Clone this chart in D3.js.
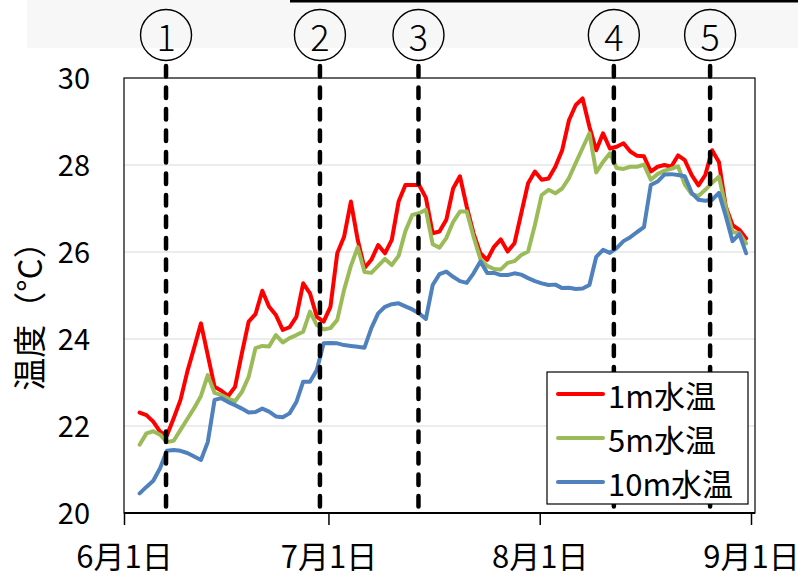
<!DOCTYPE html>
<html><head><meta charset="utf-8">
<script src="https://cdn.jsdelivr.net/npm/d3@7"></script>
<style>html,body{margin:0;padding:0;background:#fff;} svg{display:block;}</style>
</head><body>
<svg id="chart" width="803" height="577"></svg>
<script>
// ---- data ----
const startDate = "2020-06-03";           // first daily observation
const temp1m = [22.31,22.25,22.10,21.87,21.78,22.18,22.60,23.25,23.80,24.36,
  23.63,22.90,22.81,22.69,22.90,23.67,24.40,24.57,25.11,24.74,
  24.55,24.21,24.27,24.51,25.28,25.05,24.51,24.40,24.74,25.97,
  26.35,27.16,26.28,25.63,25.82,26.16,25.97,26.28,27.16,27.54,
  27.54,27.54,27.25,26.43,26.47,26.74,27.46,27.74,27.04,26.43,
  25.97,25.82,26.12,26.29,26.01,26.20,26.89,27.58,27.85,27.66,
  27.69,27.96,28.34,29.03,29.38,29.53,28.88,28.34,28.73,28.38,
  28.42,28.50,28.31,28.21,28.20,27.85,27.96,28.00,27.96,28.22,
  28.11,27.77,27.53,27.77,28.34,28.07,27.05,26.62,26.51,26.31];
const temp5m = [21.57,21.83,21.88,21.80,21.63,21.66,21.91,22.16,22.41,22.69,
  23.17,22.76,22.71,22.63,22.57,22.78,23.13,23.79,23.84,23.83,
  24.09,23.92,24.02,24.09,24.17,24.63,24.32,24.22,24.25,24.44,
  25.13,25.68,26.11,25.54,25.52,25.68,25.84,25.70,25.91,26.48,
  26.85,26.89,26.97,26.18,26.10,26.32,26.69,26.93,26.93,26.35,
  25.84,25.68,25.61,25.60,25.75,25.79,25.93,26.01,26.62,27.31,
  27.43,27.35,27.46,27.70,28.05,28.39,28.73,27.83,28.07,28.27,
  27.93,27.91,27.96,27.96,28.01,27.66,27.79,27.87,27.91,27.97,
  27.55,27.33,27.29,27.43,27.59,27.73,27.03,26.46,26.43,26.20];
const temp10m = [20.45,20.60,20.74,21.03,21.43,21.45,21.43,21.38,21.30,21.22,
  21.63,22.60,22.64,22.55,22.48,22.40,22.31,22.32,22.40,22.33,
  22.22,22.20,22.29,22.55,23.02,23.02,23.29,23.90,23.91,23.90,
  23.86,23.84,23.82,23.80,24.25,24.59,24.74,24.80,24.82,24.75,
  24.68,24.59,24.46,25.24,25.49,25.55,25.43,25.33,25.29,25.51,
  25.78,25.52,25.52,25.47,25.47,25.51,25.48,25.40,25.33,25.28,
  25.24,25.25,25.17,25.18,25.15,25.16,25.24,25.89,26.05,25.98,
  26.09,26.25,26.34,26.46,26.57,27.54,27.62,27.78,27.79,27.77,
  27.74,27.36,27.20,27.18,27.20,27.36,26.83,26.25,26.41,25.97];
const seriesNames = ["1m水温","5m水温","10m水温"];
const seriesColors = ["#FF0000","#9BBB59","#4F81BD"];
const yTicks = [20,22,24,26,28,30];
const yGrid = [22,24,26,28];
const xTickDates = ["2020-06-01","2020-07-01","2020-08-01","2020-09-01"];
const xTickLabels = ["6月1日","7月1日","8月1日","9月1日"];
const eventDates = ["2020-06-07T04:00","2020-06-29T18:00","2020-07-14T05:00","2020-08-11T21:00","2020-08-26T00:00"];
const eventLabels = ["1","2","3","4","5"];
const yTitle = "温度（°C）";

// ---- layout ----
const L = 124, R = 755, T = 78, B = 513;
const FONT = "'Noto Sans CJK JP','Noto Sans',sans-serif";
const parseDay = d3.timeParse("%Y-%m-%d");
const parseDT = d3.timeParse("%Y-%m-%dT%H:%M");
const svg = d3.select("#chart");

const x = d3.scaleTime().domain([parseDay("2020-06-01"), parseDay("2020-09-01")]).range([L, 751]);
const y = d3.scaleLinear().domain([20, 30]).range([B, T]);

const start = parseDay(startDate);
const ptDate = i => d3.timeHour.offset(d3.timeDay.offset(start, i), 7);
const series = [temp1m, temp5m, temp10m].map((vals, s) => ({
  name: seriesNames[s], color: seriesColors[s],
  pts: vals.map((v, i) => ({date: ptDate(i), v}))
}));

// top decoration
svg.append("rect").attr("x", 27).attr("y", 0).attr("width", 771).attr("height", 48).attr("fill", "#f7f7f7");
svg.append("line").attr("x1", 290).attr("x2", 798).attr("y1", 1).attr("y2", 1).attr("stroke", "#000").attr("stroke-width", 3);

// gridlines
svg.append("g").selectAll("line").data(yGrid).join("line")
  .attr("x1", L).attr("x2", R).attr("y1", d => y(d)).attr("y2", d => y(d))
  .attr("stroke", "#d9d9d9").attr("stroke-width", 1.2);

// frame
svg.append("rect").attr("x", L).attr("y", T).attr("width", R - L).attr("height", B - T)
  .attr("fill", "none").attr("stroke", "#000").attr("stroke-width", 1.2);

// y axis labels
const yAxis = svg.append("g").attr("transform", `translate(${L},0)`)
  .call(d3.axisLeft(y).tickValues(yTicks).tickSize(0).tickPadding(34).tickFormat(d3.format("d")));
yAxis.select(".domain").remove();
yAxis.selectAll("text").attr("font-family", FONT).attr("font-size", 29).attr("fill", "#000").attr("dy", "0.35em");

// x axis
const xDates = xTickDates.map(parseDay);
const xAxis = svg.append("g").attr("transform", `translate(0,${B})`)
  .call(d3.axisBottom(x).tickValues(xDates).tickSizeInner(12).tickSizeOuter(0)
    .tickFormat((d, i) => xTickLabels[i]));
xAxis.select(".domain").attr("stroke", "#000").attr("stroke-width", 2).attr("d", `M${L},0H${R}`);
xAxis.selectAll(".tick line").attr("stroke", "#000").attr("stroke-width", 1.5);
xAxis.selectAll("text").attr("font-family", FONT).attr("font-size", 31).attr("fill", "#000")
  .attr("y", 44).attr("dy", "0.35em");

// y title
svg.append("text").attr("transform", "translate(28,308) rotate(-90)")
  .attr("text-anchor", "middle").attr("dominant-baseline", "central")
  .attr("font-family", FONT).attr("font-size", 33).attr("fill", "#000").text(yTitle);

// series
const line = d3.line().x(d => x(d.date)).y(d => y(d.v));
svg.append("g").selectAll("path").data(series).join("path")
  .attr("d", d => line(d.pts)).attr("fill", "none")
  .attr("stroke", d => d.color).attr("stroke-width", 4)
  .attr("stroke-linejoin", "round").attr("stroke-linecap", "round");

// event markers
const ev = eventDates.map(parseDT);
svg.append("g").selectAll("line").data(ev).join("line")
  .attr("x1", d => x(d)).attr("x2", d => x(d)).attr("y1", 66).attr("y2", B)
  .attr("stroke", "#000").attr("stroke-width", 4.5)
  .attr("stroke-dasharray", "10.5,11").attr("stroke-linecap", "round");
const eg = svg.append("g").selectAll("g").data(ev).join("g")
  .attr("transform", d => `translate(${x(d)},35)`);
eg.append("circle").attr("r", 25.5).attr("fill", "none").attr("stroke", "#000").attr("stroke-width", 1.4);
eg.append("text").attr("text-anchor", "middle").attr("dominant-baseline", "central")
  .attr("font-family", FONT).attr("font-size", 36).attr("font-weight", 300).attr("fill", "#000")
  .text((d, i) => eventLabels[i]);

// legend
const lg = svg.append("g").attr("transform", "translate(547,372)");
lg.append("rect").attr("width", 201).attr("height", 132).attr("fill", "#fff").attr("stroke", "#000").attr("stroke-width", 1.2);
const li = lg.selectAll("g").data(series).join("g").attr("transform", (d, i) => `translate(0,${22 + i * 44})`);
li.append("line").attr("x1", 11).attr("x2", 56).attr("stroke", d => d.color).attr("stroke-width", 4).attr("stroke-linecap", "round");
li.append("text").attr("x", 61).attr("dominant-baseline", "central")
  .attr("font-family", FONT).attr("font-size", 31).attr("fill", "#000").text(d => d.name);
</script>
</body></html>
